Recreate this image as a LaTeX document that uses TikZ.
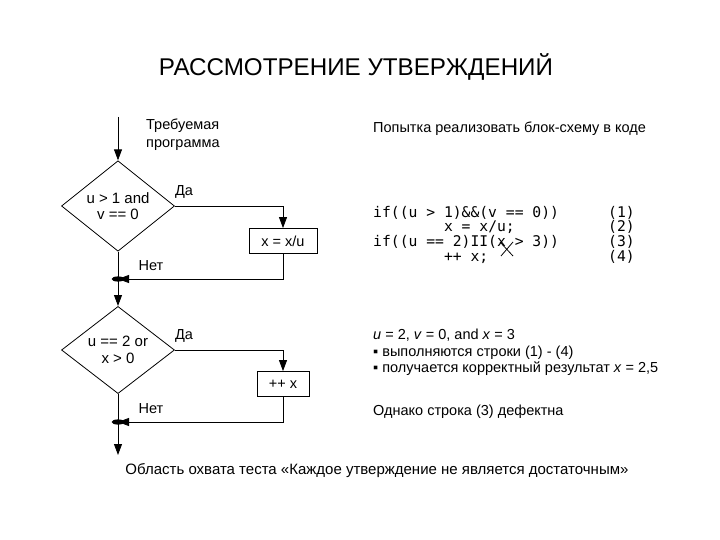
\documentclass[tikz,border=0pt]{standalone}
\usepackage{fontspec}
\setmainfont{Liberation Sans}
\newfontfamily\codefont{DejaVu Sans Mono}
\usetikzlibrary{positioning,shapes.geometric,arrows.meta}
\tikzset{
    decision/.style={diamond, draw, thick, minimum width=113pt, minimum height=77pt, inner sep=0pt, align=center, font=\fontsize{15}{16.5}\selectfont},
    process/.style={rectangle, draw, thick, minimum height=25pt, align=center, font=\fontsize{14.5}{16}\selectfont},
    arrow/.style={-{Triangle[length=11pt,width=8pt]}, thick},
    flowline/.style={thick},
    caption/.style={font=\fontsize{14.5}{17.5}\selectfont, align=left},
    plain/.style={font=\fontsize{14.5}{17}\selectfont, inner sep=0pt},
    code/.style={font=\codefont\fontsize{14.7}{14.6}\selectfont, align=left, inner sep=0pt}
}
\begin{document}
\begin{tikzpicture}[x=1pt,y=-1pt]
\useasboundingbox[fill=white] (0,0) rectangle (720,540);

\node[font=\fontsize{24.2}{27}\selectfont] (title) at (356,67) {РАССМОТРЕНИЕ УТВЕРЖДЕНИЙ};

% flow chart
\coordinate (start) at (118,117);
\node[decision] (cond1) at (118,206) {u > 1 and\\v == 0};
\node[process, minimum width=68pt] (assign) at (283,241) {x = x/u};
\coordinate (join1) at (118,279);
\node[decision] (cond2) at (118,350) {u == 2 or\\x > 0};
\node[process, minimum width=52pt] (incr) at (283,384) {++ x};
\coordinate (join2) at (118,422);
\coordinate (finish) at (118,455);

\node[caption, anchor=north west, inner sep=0pt] (prog) at (146,119) {Требуемая\\программа};
\node[plain] (yes1) at (184,192) {Да};
\node[plain] (no1) at (151,266) {Нет};
\node[plain] (yes2) at (184,336) {Да};
\node[plain] (no2) at (151,409) {Нет};

\draw[arrow] (start) -- (cond1.north);
\draw[arrow] (cond1.east) -| (assign.north);
\draw[flowline] (cond1.south) -- (join1);
\draw[arrow] (assign.south) |- (join1);
\fill (join1) ellipse (6.5pt and 2.6pt);
\draw[arrow] (join1) -- (cond2.north);
\draw[arrow] (cond2.east) -| (incr.north);
\draw[flowline] (cond2.south) -- (join2);
\draw[arrow] (incr.south) |- (join2);
\fill (join2) ellipse (6.5pt and 2.6pt);
\draw[arrow] (join2) -- (finish);

% right column
\node[plain, anchor=west] (attempt) at (373,129) {Попытка реализовать блок-схему в коде};
\node[code, anchor=north west] (lines) at (373,206) {if((u > 1)\&\&(v == 0))\\\hphantom{if((u > }x = x/u;\\if((u == 2)II(x > 3))\\\hphantom{if((u > }++ x;};
\node[code, anchor=north west] (nums) at (608,206) {(1)\\(2)\\(3)\\(4)};
\draw[thick] (500,242) -- (513,256);
\draw[thick] (513,242) -- (501,256);

\node[plain, anchor=west] (case) at (373,335) {\textit{u} = 2, \textit{v} = 0, and \textit{x} = 3};
\node[plain, anchor=west] (run) at (373,353) {▪ выполняются строки (1) - (4)};
\node[plain, anchor=west] (result) at (373,369) {▪ получается корректный результат \textit{x} = 2,5};
\node[plain, anchor=west] (defect) at (373,412) {Однако строка (3) дефектна};

\node[plain, font=\fontsize{15}{17}\selectfont] (coverage) at (377,471) {Область охвата теста «Каждое утверждение не является достаточным»};
\end{tikzpicture}
\end{document}
